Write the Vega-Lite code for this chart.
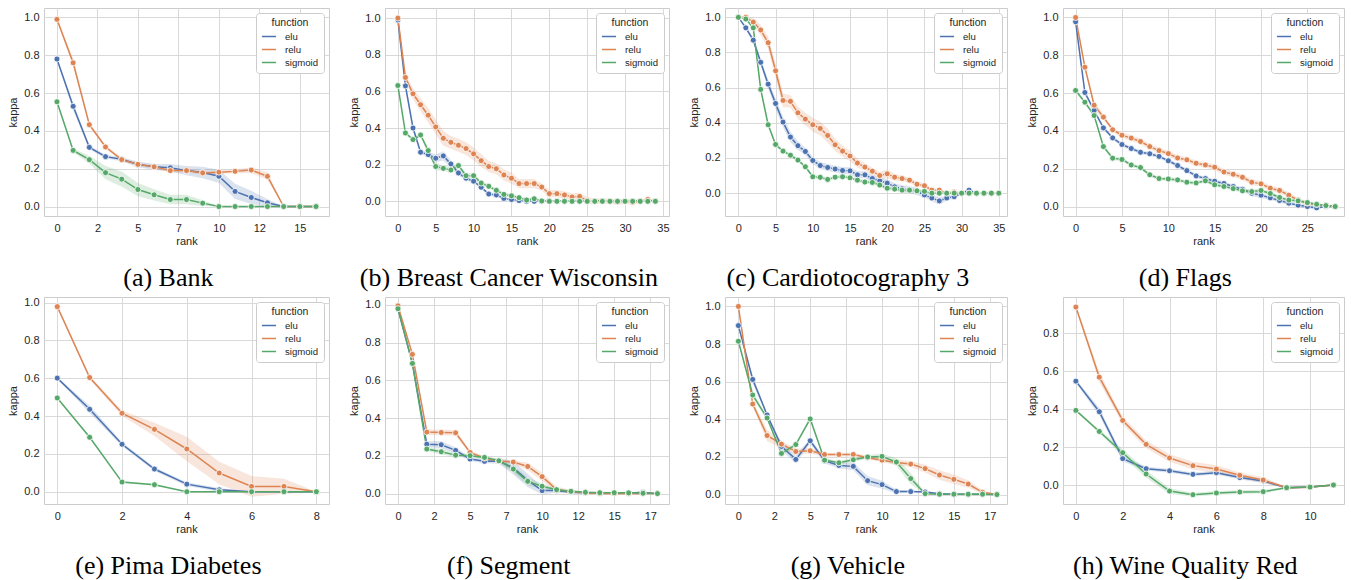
{
"$schema": "https://vega.github.io/schema/vega-lite/v6.json",
"padding": {"left": 7, "top": 7, "right": 5, "bottom": 5},
"background": "white",
"config": {
 "font": "Liberation Sans",
 "view": {"stroke": "#cccccc", "strokeWidth": 1},
 "axis": {"ticks": false, "domain": false, "grid": true, "gridColor": "#d9d9d9", "gridWidth": 1, "labelFont": "Liberation Sans", "labelFontSize": 11, "labelColor": "#262626", "titleFont": "Liberation Sans", "titleFontSize": 11, "titleFontWeight": "normal", "titleColor": "#262626", "labelPadding": 5, "labelOverlap": false, "labelFlush": false},
 "axisX": {"titlePadding": 2, "labelPadding": 6},
 "axisY": {"titlePadding": 5},
 "legend": {"orient": "top-right", "offset": 5, "padding": 5, "strokeColor": "#cccccc", "fillColor": "#ffffff", "cornerRadius": 3, "titleFont": "Liberation Sans", "titleFontSize": 10.5, "titleFontWeight": "normal", "titleColor": "#262626", "titleAnchor": "middle", "titlePadding": 0, "labelFont": "Liberation Sans", "labelFontSize": 9.6, "labelColor": "#262626", "symbolType": "stroke", "symbolStrokeWidth": 1.5, "symbolSize": 200, "rowPadding": 0, "labelOffset": 8},
 "title": {"font": "Liberation Serif", "fontSize": 26, "fontWeight": "normal", "color": "#000000", "orient": "bottom", "anchor": "middle", "frame": "bounds", "offset": 19}
},
"datasets": {
"a": [
{"function":"elu","rank":0,"kappa":0.78,"lo":0.775,"hi":0.785},
{"function":"elu","rank":1,"kappa":0.53,"lo":0.51,"hi":0.55},
{"function":"elu","rank":2,"kappa":0.313,"lo":0.303,"hi":0.323},
{"function":"elu","rank":3,"kappa":0.264,"lo":0.254,"hi":0.274},
{"function":"elu","rank":4,"kappa":0.25,"lo":0.24,"hi":0.26},
{"function":"elu","rank":5,"kappa":0.223,"lo":0.208,"hi":0.238},
{"function":"elu","rank":6,"kappa":0.21,"lo":0.195,"hi":0.225},
{"function":"elu","rank":7,"kappa":0.205,"lo":0.185,"hi":0.225},
{"function":"elu","rank":8,"kappa":0.19,"lo":0.165,"hi":0.215},
{"function":"elu","rank":9,"kappa":0.18,"lo":0.15,"hi":0.21},
{"function":"elu","rank":10,"kappa":0.16,"lo":0.125,"hi":0.195},
{"function":"elu","rank":11,"kappa":0.08,"lo":0.04,"hi":0.12},
{"function":"elu","rank":12,"kappa":0.048,"lo":0.013,"hi":0.083},
{"function":"elu","rank":13,"kappa":0.02,"lo":0.0,"hi":0.04},
{"function":"elu","rank":14,"kappa":0,"lo":0,"hi":0},
{"function":"elu","rank":15,"kappa":0,"lo":0,"hi":0},
{"function":"elu","rank":16,"kappa":0,"lo":0,"hi":0},
{"function":"relu","rank":0,"kappa":0.99,"lo":0.98,"hi":1.0},
{"function":"relu","rank":1,"kappa":0.76,"lo":0.74,"hi":0.78},
{"function":"relu","rank":2,"kappa":0.433,"lo":0.423,"hi":0.443},
{"function":"relu","rank":3,"kappa":0.315,"lo":0.305,"hi":0.325},
{"function":"relu","rank":4,"kappa":0.248,"lo":0.238,"hi":0.258},
{"function":"relu","rank":5,"kappa":0.223,"lo":0.213,"hi":0.233},
{"function":"relu","rank":6,"kappa":0.21,"lo":0.2,"hi":0.22},
{"function":"relu","rank":7,"kappa":0.19,"lo":0.18,"hi":0.2},
{"function":"relu","rank":8,"kappa":0.19,"lo":0.18,"hi":0.2},
{"function":"relu","rank":9,"kappa":0.178,"lo":0.168,"hi":0.188},
{"function":"relu","rank":10,"kappa":0.182,"lo":0.172,"hi":0.192},
{"function":"relu","rank":11,"kappa":0.186,"lo":0.176,"hi":0.196},
{"function":"relu","rank":12,"kappa":0.193,"lo":0.178,"hi":0.208},
{"function":"relu","rank":13,"kappa":0.16,"lo":0.14,"hi":0.18},
{"function":"relu","rank":14,"kappa":0,"lo":0,"hi":0},
{"function":"relu","rank":15,"kappa":0,"lo":0,"hi":0},
{"function":"relu","rank":16,"kappa":0,"lo":0,"hi":0},
{"function":"sigmoid","rank":0,"kappa":0.554,"lo":0.549,"hi":0.559},
{"function":"sigmoid","rank":1,"kappa":0.297,"lo":0.287,"hi":0.307},
{"function":"sigmoid","rank":2,"kappa":0.248,"lo":0.228,"hi":0.268},
{"function":"sigmoid","rank":3,"kappa":0.179,"lo":0.144,"hi":0.214},
{"function":"sigmoid","rank":4,"kappa":0.145,"lo":0.105,"hi":0.185},
{"function":"sigmoid","rank":5,"kappa":0.09,"lo":0.055,"hi":0.125},
{"function":"sigmoid","rank":6,"kappa":0.062,"lo":0.032,"hi":0.092},
{"function":"sigmoid","rank":7,"kappa":0.037,"lo":0.012,"hi":0.062},
{"function":"sigmoid","rank":8,"kappa":0.037,"lo":0.012,"hi":0.062},
{"function":"sigmoid","rank":9,"kappa":0.018,"lo":0.003,"hi":0.033},
{"function":"sigmoid","rank":10,"kappa":0,"lo":0,"hi":0},
{"function":"sigmoid","rank":11,"kappa":0,"lo":0,"hi":0},
{"function":"sigmoid","rank":12,"kappa":0,"lo":0,"hi":0},
{"function":"sigmoid","rank":13,"kappa":0,"lo":0,"hi":0},
{"function":"sigmoid","rank":14,"kappa":0,"lo":0,"hi":0},
{"function":"sigmoid","rank":15,"kappa":0,"lo":0,"hi":0},
{"function":"sigmoid","rank":16,"kappa":0,"lo":0,"hi":0}
],
"b": [
{"function":"elu","rank":0,"kappa":0.99,"lo":0.98,"hi":1.0},
{"function":"elu","rank":1,"kappa":0.63,"lo":0.61,"hi":0.65},
{"function":"elu","rank":2,"kappa":0.40,"lo":0.38,"hi":0.42},
{"function":"elu","rank":3,"kappa":0.268,"lo":0.258,"hi":0.278},
{"function":"elu","rank":4,"kappa":0.255,"lo":0.24,"hi":0.27},
{"function":"elu","rank":5,"kappa":0.235,"lo":0.215,"hi":0.255},
{"function":"elu","rank":6,"kappa":0.248,"lo":0.223,"hi":0.273},
{"function":"elu","rank":7,"kappa":0.204,"lo":0.184,"hi":0.224},
{"function":"elu","rank":8,"kappa":0.155,"lo":0.14,"hi":0.17},
{"function":"elu","rank":9,"kappa":0.126,"lo":0.116,"hi":0.136},
{"function":"elu","rank":10,"kappa":0.11,"lo":0.1,"hi":0.12},
{"function":"elu","rank":11,"kappa":0.077,"lo":0.067,"hi":0.087},
{"function":"elu","rank":12,"kappa":0.04,"lo":0.03,"hi":0.05},
{"function":"elu","rank":13,"kappa":0.035,"lo":0.025,"hi":0.045},
{"function":"elu","rank":14,"kappa":0.016,"lo":0.006,"hi":0.026},
{"function":"elu","rank":15,"kappa":0.01,"lo":0.005,"hi":0.015},
{"function":"elu","rank":16,"kappa":0.004,"lo":-0.001,"hi":0.009},
{"function":"elu","rank":17,"kappa":0,"lo":0,"hi":0},
{"function":"elu","rank":18,"kappa":0,"lo":0,"hi":0},
{"function":"elu","rank":19,"kappa":0,"lo":0,"hi":0},
{"function":"elu","rank":20,"kappa":0,"lo":0,"hi":0},
{"function":"elu","rank":21,"kappa":0,"lo":0,"hi":0},
{"function":"elu","rank":22,"kappa":0,"lo":0,"hi":0},
{"function":"elu","rank":23,"kappa":0,"lo":0,"hi":0},
{"function":"elu","rank":24,"kappa":0,"lo":0,"hi":0},
{"function":"elu","rank":25,"kappa":0,"lo":0,"hi":0},
{"function":"elu","rank":26,"kappa":0,"lo":0,"hi":0},
{"function":"elu","rank":27,"kappa":0,"lo":0,"hi":0},
{"function":"elu","rank":28,"kappa":0,"lo":0,"hi":0},
{"function":"elu","rank":29,"kappa":0,"lo":0,"hi":0},
{"function":"elu","rank":30,"kappa":0,"lo":0,"hi":0},
{"function":"elu","rank":31,"kappa":0,"lo":0,"hi":0},
{"function":"elu","rank":32,"kappa":0,"lo":0,"hi":0},
{"function":"elu","rank":33,"kappa":0,"lo":0,"hi":0},
{"function":"elu","rank":34,"kappa":0,"lo":0,"hi":0},
{"function":"relu","rank":0,"kappa":1.0,"lo":0.995,"hi":1.005},
{"function":"relu","rank":1,"kappa":0.676,"lo":0.656,"hi":0.696},
{"function":"relu","rank":2,"kappa":0.587,"lo":0.557,"hi":0.617},
{"function":"relu","rank":3,"kappa":0.527,"lo":0.492,"hi":0.562},
{"function":"relu","rank":4,"kappa":0.47,"lo":0.43,"hi":0.51},
{"function":"relu","rank":5,"kappa":0.406,"lo":0.366,"hi":0.446},
{"function":"relu","rank":6,"kappa":0.344,"lo":0.304,"hi":0.384},
{"function":"relu","rank":7,"kappa":0.322,"lo":0.287,"hi":0.357},
{"function":"relu","rank":8,"kappa":0.306,"lo":0.271,"hi":0.341},
{"function":"relu","rank":9,"kappa":0.288,"lo":0.253,"hi":0.323},
{"function":"relu","rank":10,"kappa":0.259,"lo":0.224,"hi":0.294},
{"function":"relu","rank":11,"kappa":0.222,"lo":0.187,"hi":0.257},
{"function":"relu","rank":12,"kappa":0.19,"lo":0.16,"hi":0.22},
{"function":"relu","rank":13,"kappa":0.178,"lo":0.148,"hi":0.208},
{"function":"relu","rank":14,"kappa":0.144,"lo":0.114,"hi":0.174},
{"function":"relu","rank":15,"kappa":0.126,"lo":0.096,"hi":0.156},
{"function":"relu","rank":16,"kappa":0.097,"lo":0.072,"hi":0.122},
{"function":"relu","rank":17,"kappa":0.097,"lo":0.072,"hi":0.122},
{"function":"relu","rank":18,"kappa":0.097,"lo":0.072,"hi":0.122},
{"function":"relu","rank":19,"kappa":0.078,"lo":0.058,"hi":0.098},
{"function":"relu","rank":20,"kappa":0.042,"lo":0.022,"hi":0.062},
{"function":"relu","rank":21,"kappa":0.042,"lo":0.022,"hi":0.062},
{"function":"relu","rank":22,"kappa":0.035,"lo":0.015,"hi":0.055},
{"function":"relu","rank":23,"kappa":0.024,"lo":0.004,"hi":0.044},
{"function":"relu","rank":24,"kappa":0.027,"lo":0.007,"hi":0.047},
{"function":"relu","rank":25,"kappa":0.004,"lo":-0.016,"hi":0.024},
{"function":"relu","rank":26,"kappa":0,"lo":-0.015,"hi":0.015},
{"function":"relu","rank":27,"kappa":0,"lo":-0.015,"hi":0.015},
{"function":"relu","rank":28,"kappa":0,"lo":-0.015,"hi":0.015},
{"function":"relu","rank":29,"kappa":-0.003,"lo":-0.018,"hi":0.012},
{"function":"relu","rank":30,"kappa":0,"lo":-0.015,"hi":0.015},
{"function":"relu","rank":31,"kappa":-0.005,"lo":-0.02,"hi":0.01},
{"function":"relu","rank":32,"kappa":0,"lo":-0.01,"hi":0.01},
{"function":"relu","rank":33,"kappa":0.01,"lo":0.0,"hi":0.02},
{"function":"relu","rank":34,"kappa":0,"lo":0,"hi":0},
{"function":"sigmoid","rank":0,"kappa":0.632,"lo":0.627,"hi":0.637},
{"function":"sigmoid","rank":1,"kappa":0.373,"lo":0.363,"hi":0.383},
{"function":"sigmoid","rank":2,"kappa":0.337,"lo":0.327,"hi":0.347},
{"function":"sigmoid","rank":3,"kappa":0.362,"lo":0.352,"hi":0.372},
{"function":"sigmoid","rank":4,"kappa":0.277,"lo":0.262,"hi":0.292},
{"function":"sigmoid","rank":5,"kappa":0.19,"lo":0.17,"hi":0.21},
{"function":"sigmoid","rank":6,"kappa":0.18,"lo":0.165,"hi":0.195},
{"function":"sigmoid","rank":7,"kappa":0.171,"lo":0.156,"hi":0.186},
{"function":"sigmoid","rank":8,"kappa":0.195,"lo":0.18,"hi":0.21},
{"function":"sigmoid","rank":9,"kappa":0.14,"lo":0.125,"hi":0.155},
{"function":"sigmoid","rank":10,"kappa":0.14,"lo":0.125,"hi":0.155},
{"function":"sigmoid","rank":11,"kappa":0.1,"lo":0.09,"hi":0.11},
{"function":"sigmoid","rank":12,"kappa":0.082,"lo":0.072,"hi":0.092},
{"function":"sigmoid","rank":13,"kappa":0.06,"lo":0.05,"hi":0.07},
{"function":"sigmoid","rank":14,"kappa":0.038,"lo":0.028,"hi":0.048},
{"function":"sigmoid","rank":15,"kappa":0.03,"lo":0.02,"hi":0.04},
{"function":"sigmoid","rank":16,"kappa":0.02,"lo":0.01,"hi":0.03},
{"function":"sigmoid","rank":17,"kappa":0.007,"lo":-0.003,"hi":0.017},
{"function":"sigmoid","rank":18,"kappa":0.014,"lo":0.004,"hi":0.024},
{"function":"sigmoid","rank":19,"kappa":0.002,"lo":-0.003,"hi":0.007},
{"function":"sigmoid","rank":20,"kappa":0,"lo":0,"hi":0},
{"function":"sigmoid","rank":21,"kappa":0,"lo":0,"hi":0},
{"function":"sigmoid","rank":22,"kappa":0,"lo":0,"hi":0},
{"function":"sigmoid","rank":23,"kappa":0,"lo":0,"hi":0},
{"function":"sigmoid","rank":24,"kappa":0,"lo":0,"hi":0},
{"function":"sigmoid","rank":25,"kappa":0,"lo":0,"hi":0},
{"function":"sigmoid","rank":26,"kappa":0,"lo":0,"hi":0},
{"function":"sigmoid","rank":27,"kappa":0,"lo":0,"hi":0},
{"function":"sigmoid","rank":28,"kappa":0,"lo":0,"hi":0},
{"function":"sigmoid","rank":29,"kappa":0,"lo":0,"hi":0},
{"function":"sigmoid","rank":30,"kappa":0,"lo":0,"hi":0},
{"function":"sigmoid","rank":31,"kappa":0,"lo":0,"hi":0},
{"function":"sigmoid","rank":32,"kappa":0,"lo":0,"hi":0},
{"function":"sigmoid","rank":33,"kappa":0,"lo":0,"hi":0},
{"function":"sigmoid","rank":34,"kappa":0,"lo":0,"hi":0}
],
"c": [
{"function":"elu","rank":0,"kappa":1.0,"lo":1.0,"hi":1.0},
{"function":"elu","rank":1,"kappa":0.94,"lo":0.93,"hi":0.95},
{"function":"elu","rank":2,"kappa":0.87,"lo":0.855,"hi":0.885},
{"function":"elu","rank":3,"kappa":0.744,"lo":0.724,"hi":0.764},
{"function":"elu","rank":4,"kappa":0.62,"lo":0.595,"hi":0.645},
{"function":"elu","rank":5,"kappa":0.51,"lo":0.48,"hi":0.54},
{"function":"elu","rank":6,"kappa":0.404,"lo":0.374,"hi":0.434},
{"function":"elu","rank":7,"kappa":0.319,"lo":0.289,"hi":0.349},
{"function":"elu","rank":8,"kappa":0.27,"lo":0.245,"hi":0.295},
{"function":"elu","rank":9,"kappa":0.237,"lo":0.217,"hi":0.257},
{"function":"elu","rank":10,"kappa":0.186,"lo":0.166,"hi":0.206},
{"function":"elu","rank":11,"kappa":0.157,"lo":0.137,"hi":0.177},
{"function":"elu","rank":12,"kappa":0.146,"lo":0.126,"hi":0.166},
{"function":"elu","rank":13,"kappa":0.137,"lo":0.117,"hi":0.157},
{"function":"elu","rank":14,"kappa":0.129,"lo":0.109,"hi":0.149},
{"function":"elu","rank":15,"kappa":0.127,"lo":0.107,"hi":0.147},
{"function":"elu","rank":16,"kappa":0.104,"lo":0.084,"hi":0.124},
{"function":"elu","rank":17,"kappa":0.104,"lo":0.084,"hi":0.124},
{"function":"elu","rank":18,"kappa":0.083,"lo":0.063,"hi":0.103},
{"function":"elu","rank":19,"kappa":0.07,"lo":0.05,"hi":0.09},
{"function":"elu","rank":20,"kappa":0.057,"lo":0.037,"hi":0.077},
{"function":"elu","rank":21,"kappa":0.036,"lo":0.016,"hi":0.056},
{"function":"elu","rank":22,"kappa":0.025,"lo":0.005,"hi":0.045},
{"function":"elu","rank":23,"kappa":0.02,"lo":0.0,"hi":0.04},
{"function":"elu","rank":24,"kappa":0.01,"lo":-0.01,"hi":0.03},
{"function":"elu","rank":25,"kappa":-0.01,"lo":-0.025,"hi":0.005},
{"function":"elu","rank":26,"kappa":-0.028,"lo":-0.048,"hi":-0.008},
{"function":"elu","rank":27,"kappa":-0.044,"lo":-0.064,"hi":-0.024},
{"function":"elu","rank":28,"kappa":-0.028,"lo":-0.043,"hi":-0.013},
{"function":"elu","rank":29,"kappa":-0.02,"lo":-0.03,"hi":-0.01},
{"function":"elu","rank":30,"kappa":0,"lo":-0.01,"hi":0.01},
{"function":"elu","rank":31,"kappa":0.017,"lo":0.007,"hi":0.027},
{"function":"elu","rank":32,"kappa":0,"lo":0,"hi":0},
{"function":"elu","rank":33,"kappa":0,"lo":0,"hi":0},
{"function":"elu","rank":34,"kappa":0,"lo":0,"hi":0},
{"function":"elu","rank":35,"kappa":0,"lo":0,"hi":0},
{"function":"relu","rank":0,"kappa":1.0,"lo":1.0,"hi":1.0},
{"function":"relu","rank":1,"kappa":1.0,"lo":0.99,"hi":1.01},
{"function":"relu","rank":2,"kappa":0.973,"lo":0.953,"hi":0.993},
{"function":"relu","rank":3,"kappa":0.928,"lo":0.898,"hi":0.958},
{"function":"relu","rank":4,"kappa":0.856,"lo":0.821,"hi":0.891},
{"function":"relu","rank":5,"kappa":0.696,"lo":0.656,"hi":0.736},
{"function":"relu","rank":6,"kappa":0.527,"lo":0.487,"hi":0.567},
{"function":"relu","rank":7,"kappa":0.522,"lo":0.487,"hi":0.557},
{"function":"relu","rank":8,"kappa":0.457,"lo":0.422,"hi":0.492},
{"function":"relu","rank":9,"kappa":0.421,"lo":0.386,"hi":0.456},
{"function":"relu","rank":10,"kappa":0.389,"lo":0.349,"hi":0.429},
{"function":"relu","rank":11,"kappa":0.368,"lo":0.328,"hi":0.408},
{"function":"relu","rank":12,"kappa":0.328,"lo":0.288,"hi":0.368},
{"function":"relu","rank":13,"kappa":0.275,"lo":0.24,"hi":0.31},
{"function":"relu","rank":14,"kappa":0.239,"lo":0.209,"hi":0.269},
{"function":"relu","rank":15,"kappa":0.211,"lo":0.181,"hi":0.241},
{"function":"relu","rank":16,"kappa":0.171,"lo":0.146,"hi":0.196},
{"function":"relu","rank":17,"kappa":0.148,"lo":0.128,"hi":0.168},
{"function":"relu","rank":18,"kappa":0.125,"lo":0.105,"hi":0.145},
{"function":"relu","rank":19,"kappa":0.1,"lo":0.08,"hi":0.12},
{"function":"relu","rank":20,"kappa":0.11,"lo":0.085,"hi":0.135},
{"function":"relu","rank":21,"kappa":0.091,"lo":0.071,"hi":0.111},
{"function":"relu","rank":22,"kappa":0.083,"lo":0.068,"hi":0.098},
{"function":"relu","rank":23,"kappa":0.074,"lo":0.059,"hi":0.089},
{"function":"relu","rank":24,"kappa":0.051,"lo":0.036,"hi":0.066},
{"function":"relu","rank":25,"kappa":0.042,"lo":0.027,"hi":0.057},
{"function":"relu","rank":26,"kappa":0.017,"lo":0.007,"hi":0.027},
{"function":"relu","rank":27,"kappa":0.017,"lo":0.007,"hi":0.027},
{"function":"relu","rank":28,"kappa":0,"lo":-0.01,"hi":0.01},
{"function":"relu","rank":29,"kappa":0.006,"lo":-0.004,"hi":0.016},
{"function":"relu","rank":30,"kappa":0,"lo":-0.01,"hi":0.01},
{"function":"relu","rank":31,"kappa":0,"lo":-0.01,"hi":0.01},
{"function":"relu","rank":32,"kappa":0,"lo":0,"hi":0},
{"function":"relu","rank":33,"kappa":0,"lo":0,"hi":0},
{"function":"relu","rank":34,"kappa":0,"lo":0,"hi":0},
{"function":"relu","rank":35,"kappa":0,"lo":0,"hi":0},
{"function":"sigmoid","rank":0,"kappa":1.0,"lo":1.0,"hi":1.0},
{"function":"sigmoid","rank":1,"kappa":0.99,"lo":0.985,"hi":0.995},
{"function":"sigmoid","rank":2,"kappa":0.94,"lo":0.93,"hi":0.95},
{"function":"sigmoid","rank":3,"kappa":0.59,"lo":0.58,"hi":0.6},
{"function":"sigmoid","rank":4,"kappa":0.389,"lo":0.379,"hi":0.399},
{"function":"sigmoid","rank":5,"kappa":0.277,"lo":0.267,"hi":0.287},
{"function":"sigmoid","rank":6,"kappa":0.239,"lo":0.229,"hi":0.249},
{"function":"sigmoid","rank":7,"kappa":0.216,"lo":0.206,"hi":0.226},
{"function":"sigmoid","rank":8,"kappa":0.188,"lo":0.178,"hi":0.198},
{"function":"sigmoid","rank":9,"kappa":0.15,"lo":0.14,"hi":0.16},
{"function":"sigmoid","rank":10,"kappa":0.093,"lo":0.083,"hi":0.103},
{"function":"sigmoid","rank":11,"kappa":0.09,"lo":0.08,"hi":0.1},
{"function":"sigmoid","rank":12,"kappa":0.078,"lo":0.068,"hi":0.088},
{"function":"sigmoid","rank":13,"kappa":0.091,"lo":0.081,"hi":0.101},
{"function":"sigmoid","rank":14,"kappa":0.093,"lo":0.083,"hi":0.103},
{"function":"sigmoid","rank":15,"kappa":0.087,"lo":0.077,"hi":0.097},
{"function":"sigmoid","rank":16,"kappa":0.074,"lo":0.064,"hi":0.084},
{"function":"sigmoid","rank":17,"kappa":0.063,"lo":0.053,"hi":0.073},
{"function":"sigmoid","rank":18,"kappa":0.061,"lo":0.051,"hi":0.071},
{"function":"sigmoid","rank":19,"kappa":0.046,"lo":0.036,"hi":0.056},
{"function":"sigmoid","rank":20,"kappa":0.028,"lo":0.018,"hi":0.038},
{"function":"sigmoid","rank":21,"kappa":0.023,"lo":0.013,"hi":0.033},
{"function":"sigmoid","rank":22,"kappa":0.017,"lo":0.007,"hi":0.027},
{"function":"sigmoid","rank":23,"kappa":0.017,"lo":0.007,"hi":0.027},
{"function":"sigmoid","rank":24,"kappa":0.013,"lo":0.003,"hi":0.023},
{"function":"sigmoid","rank":25,"kappa":0.01,"lo":0.0,"hi":0.02},
{"function":"sigmoid","rank":26,"kappa":0,"lo":0,"hi":0},
{"function":"sigmoid","rank":27,"kappa":0,"lo":0,"hi":0},
{"function":"sigmoid","rank":28,"kappa":0,"lo":0,"hi":0},
{"function":"sigmoid","rank":29,"kappa":0,"lo":0,"hi":0},
{"function":"sigmoid","rank":30,"kappa":0,"lo":0,"hi":0},
{"function":"sigmoid","rank":31,"kappa":0,"lo":0,"hi":0},
{"function":"sigmoid","rank":32,"kappa":0,"lo":0,"hi":0},
{"function":"sigmoid","rank":33,"kappa":0,"lo":0,"hi":0},
{"function":"sigmoid","rank":34,"kappa":0,"lo":0,"hi":0},
{"function":"sigmoid","rank":35,"kappa":0,"lo":0,"hi":0}
],
"d": [
{"function":"elu","rank":0,"kappa":0.977,"lo":0.967,"hi":0.987},
{"function":"elu","rank":1,"kappa":0.603,"lo":0.588,"hi":0.618},
{"function":"elu","rank":2,"kappa":0.508,"lo":0.498,"hi":0.518},
{"function":"elu","rank":3,"kappa":0.416,"lo":0.406,"hi":0.426},
{"function":"elu","rank":4,"kappa":0.363,"lo":0.353,"hi":0.373},
{"function":"elu","rank":5,"kappa":0.328,"lo":0.318,"hi":0.338},
{"function":"elu","rank":6,"kappa":0.307,"lo":0.297,"hi":0.317},
{"function":"elu","rank":7,"kappa":0.287,"lo":0.277,"hi":0.297},
{"function":"elu","rank":8,"kappa":0.279,"lo":0.269,"hi":0.289},
{"function":"elu","rank":9,"kappa":0.265,"lo":0.255,"hi":0.275},
{"function":"elu","rank":10,"kappa":0.242,"lo":0.232,"hi":0.252},
{"function":"elu","rank":11,"kappa":0.217,"lo":0.207,"hi":0.227},
{"function":"elu","rank":12,"kappa":0.19,"lo":0.18,"hi":0.2},
{"function":"elu","rank":13,"kappa":0.162,"lo":0.152,"hi":0.172},
{"function":"elu","rank":14,"kappa":0.148,"lo":0.138,"hi":0.158},
{"function":"elu","rank":15,"kappa":0.134,"lo":0.124,"hi":0.144},
{"function":"elu","rank":16,"kappa":0.122,"lo":0.112,"hi":0.132},
{"function":"elu","rank":17,"kappa":0.106,"lo":0.096,"hi":0.116},
{"function":"elu","rank":18,"kappa":0.092,"lo":0.082,"hi":0.102},
{"function":"elu","rank":19,"kappa":0.07,"lo":0.055,"hi":0.085},
{"function":"elu","rank":20,"kappa":0.06,"lo":0.045,"hi":0.075},
{"function":"elu","rank":21,"kappa":0.046,"lo":0.036,"hi":0.056},
{"function":"elu","rank":22,"kappa":0.032,"lo":0.022,"hi":0.042},
{"function":"elu","rank":23,"kappa":0.018,"lo":0.008,"hi":0.028},
{"function":"elu","rank":24,"kappa":0.007,"lo":-0.003,"hi":0.017},
{"function":"elu","rank":25,"kappa":0,"lo":-0.01,"hi":0.01},
{"function":"elu","rank":26,"kappa":-0.007,"lo":-0.017,"hi":0.003},
{"function":"elu","rank":27,"kappa":0,"lo":0,"hi":0},
{"function":"elu","rank":28,"kappa":0,"lo":0,"hi":0},
{"function":"relu","rank":0,"kappa":1.0,"lo":1.0,"hi":1.0},
{"function":"relu","rank":1,"kappa":0.737,"lo":0.727,"hi":0.747},
{"function":"relu","rank":2,"kappa":0.536,"lo":0.516,"hi":0.556},
{"function":"relu","rank":3,"kappa":0.473,"lo":0.458,"hi":0.488},
{"function":"relu","rank":4,"kappa":0.406,"lo":0.396,"hi":0.416},
{"function":"relu","rank":5,"kappa":0.377,"lo":0.362,"hi":0.392},
{"function":"relu","rank":6,"kappa":0.362,"lo":0.347,"hi":0.377},
{"function":"relu","rank":7,"kappa":0.344,"lo":0.329,"hi":0.359},
{"function":"relu","rank":8,"kappa":0.317,"lo":0.302,"hi":0.332},
{"function":"relu","rank":9,"kappa":0.296,"lo":0.281,"hi":0.311},
{"function":"relu","rank":10,"kappa":0.28,"lo":0.265,"hi":0.295},
{"function":"relu","rank":11,"kappa":0.257,"lo":0.242,"hi":0.272},
{"function":"relu","rank":12,"kappa":0.247,"lo":0.232,"hi":0.262},
{"function":"relu","rank":13,"kappa":0.229,"lo":0.214,"hi":0.244},
{"function":"relu","rank":14,"kappa":0.22,"lo":0.205,"hi":0.235},
{"function":"relu","rank":15,"kappa":0.208,"lo":0.193,"hi":0.223},
{"function":"relu","rank":16,"kappa":0.183,"lo":0.168,"hi":0.198},
{"function":"relu","rank":17,"kappa":0.171,"lo":0.156,"hi":0.186},
{"function":"relu","rank":18,"kappa":0.155,"lo":0.14,"hi":0.17},
{"function":"relu","rank":19,"kappa":0.129,"lo":0.114,"hi":0.144},
{"function":"relu","rank":20,"kappa":0.12,"lo":0.105,"hi":0.135},
{"function":"relu","rank":21,"kappa":0.097,"lo":0.082,"hi":0.112},
{"function":"relu","rank":22,"kappa":0.085,"lo":0.07,"hi":0.1},
{"function":"relu","rank":23,"kappa":0.06,"lo":0.045,"hi":0.075},
{"function":"relu","rank":24,"kappa":0.034,"lo":0.024,"hi":0.044},
{"function":"relu","rank":25,"kappa":0.018,"lo":0.008,"hi":0.028},
{"function":"relu","rank":26,"kappa":0.011,"lo":0.006,"hi":0.016},
{"function":"relu","rank":27,"kappa":0.005,"lo":0.0,"hi":0.01},
{"function":"relu","rank":28,"kappa":0,"lo":0,"hi":0},
{"function":"sigmoid","rank":0,"kappa":0.614,"lo":0.609,"hi":0.619},
{"function":"sigmoid","rank":1,"kappa":0.552,"lo":0.542,"hi":0.562},
{"function":"sigmoid","rank":2,"kappa":0.481,"lo":0.471,"hi":0.491},
{"function":"sigmoid","rank":3,"kappa":0.317,"lo":0.307,"hi":0.327},
{"function":"sigmoid","rank":4,"kappa":0.256,"lo":0.246,"hi":0.266},
{"function":"sigmoid","rank":5,"kappa":0.249,"lo":0.239,"hi":0.259},
{"function":"sigmoid","rank":6,"kappa":0.22,"lo":0.21,"hi":0.23},
{"function":"sigmoid","rank":7,"kappa":0.206,"lo":0.196,"hi":0.216},
{"function":"sigmoid","rank":8,"kappa":0.168,"lo":0.158,"hi":0.178},
{"function":"sigmoid","rank":9,"kappa":0.148,"lo":0.138,"hi":0.158},
{"function":"sigmoid","rank":10,"kappa":0.146,"lo":0.136,"hi":0.156},
{"function":"sigmoid","rank":11,"kappa":0.141,"lo":0.131,"hi":0.151},
{"function":"sigmoid","rank":12,"kappa":0.129,"lo":0.119,"hi":0.139},
{"function":"sigmoid","rank":13,"kappa":0.125,"lo":0.115,"hi":0.135},
{"function":"sigmoid","rank":14,"kappa":0.136,"lo":0.126,"hi":0.146},
{"function":"sigmoid","rank":15,"kappa":0.115,"lo":0.105,"hi":0.125},
{"function":"sigmoid","rank":16,"kappa":0.106,"lo":0.096,"hi":0.116},
{"function":"sigmoid","rank":17,"kappa":0.095,"lo":0.085,"hi":0.105},
{"function":"sigmoid","rank":18,"kappa":0.083,"lo":0.073,"hi":0.093},
{"function":"sigmoid","rank":19,"kappa":0.079,"lo":0.069,"hi":0.089},
{"function":"sigmoid","rank":20,"kappa":0.085,"lo":0.075,"hi":0.095},
{"function":"sigmoid","rank":21,"kappa":0.069,"lo":0.059,"hi":0.079},
{"function":"sigmoid","rank":22,"kappa":0.048,"lo":0.038,"hi":0.058},
{"function":"sigmoid","rank":23,"kappa":0.034,"lo":0.024,"hi":0.044},
{"function":"sigmoid","rank":24,"kappa":0.03,"lo":0.02,"hi":0.04},
{"function":"sigmoid","rank":25,"kappa":0.021,"lo":0.011,"hi":0.031},
{"function":"sigmoid","rank":26,"kappa":0.012,"lo":0.002,"hi":0.022},
{"function":"sigmoid","rank":27,"kappa":0.005,"lo":0.0,"hi":0.01},
{"function":"sigmoid","rank":28,"kappa":0,"lo":0,"hi":0}
],
"e": [
{"function":"elu","rank":0,"kappa":0.601,"lo":0.596,"hi":0.606},
{"function":"elu","rank":1,"kappa":0.436,"lo":0.416,"hi":0.456},
{"function":"elu","rank":2,"kappa":0.251,"lo":0.241,"hi":0.261},
{"function":"elu","rank":3,"kappa":0.12,"lo":0.11,"hi":0.13},
{"function":"elu","rank":4,"kappa":0.04,"lo":0.03,"hi":0.05},
{"function":"elu","rank":5,"kappa":0.01,"lo":0.0,"hi":0.02},
{"function":"elu","rank":6,"kappa":0,"lo":0,"hi":0},
{"function":"elu","rank":7,"kappa":0,"lo":0,"hi":0},
{"function":"elu","rank":8,"kappa":0,"lo":0,"hi":0},
{"function":"relu","rank":0,"kappa":0.979,"lo":0.974,"hi":0.984},
{"function":"relu","rank":1,"kappa":0.604,"lo":0.594,"hi":0.614},
{"function":"relu","rank":2,"kappa":0.415,"lo":0.4,"hi":0.43},
{"function":"relu","rank":3,"kappa":0.33,"lo":0.295,"hi":0.365},
{"function":"relu","rank":4,"kappa":0.226,"lo":0.161,"hi":0.291},
{"function":"relu","rank":5,"kappa":0.099,"lo":0.039,"hi":0.159},
{"function":"relu","rank":6,"kappa":0.028,"lo":-0.027,"hi":0.083},
{"function":"relu","rank":7,"kappa":0.028,"lo":-0.012,"hi":0.068},
{"function":"relu","rank":8,"kappa":0,"lo":0,"hi":0},
{"function":"sigmoid","rank":0,"kappa":0.496,"lo":0.491,"hi":0.501},
{"function":"sigmoid","rank":1,"kappa":0.288,"lo":0.283,"hi":0.293},
{"function":"sigmoid","rank":2,"kappa":0.051,"lo":0.046,"hi":0.056},
{"function":"sigmoid","rank":3,"kappa":0.037,"lo":0.032,"hi":0.042},
{"function":"sigmoid","rank":4,"kappa":0,"lo":0,"hi":0},
{"function":"sigmoid","rank":5,"kappa":0,"lo":0,"hi":0},
{"function":"sigmoid","rank":6,"kappa":0,"lo":0,"hi":0},
{"function":"sigmoid","rank":7,"kappa":0,"lo":0,"hi":0},
{"function":"sigmoid","rank":8,"kappa":0,"lo":0,"hi":0}
],
"f": [
{"function":"elu","rank":0,"kappa":0.98,"lo":0.975,"hi":0.985},
{"function":"elu","rank":1,"kappa":0.69,"lo":0.685,"hi":0.695},
{"function":"elu","rank":2,"kappa":0.262,"lo":0.247,"hi":0.277},
{"function":"elu","rank":3,"kappa":0.259,"lo":0.239,"hi":0.279},
{"function":"elu","rank":4,"kappa":0.229,"lo":0.214,"hi":0.244},
{"function":"elu","rank":5,"kappa":0.183,"lo":0.173,"hi":0.193},
{"function":"elu","rank":6,"kappa":0.171,"lo":0.161,"hi":0.181},
{"function":"elu","rank":7,"kappa":0.173,"lo":0.158,"hi":0.188},
{"function":"elu","rank":8,"kappa":0.136,"lo":0.101,"hi":0.171},
{"function":"elu","rank":9,"kappa":0.07,"lo":0.035,"hi":0.105},
{"function":"elu","rank":10,"kappa":0.016,"lo":-0.004,"hi":0.036},
{"function":"elu","rank":11,"kappa":0.016,"lo":0.006,"hi":0.026},
{"function":"elu","rank":12,"kappa":0.007,"lo":0.002,"hi":0.012},
{"function":"elu","rank":13,"kappa":0.005,"lo":0.0,"hi":0.01},
{"function":"elu","rank":14,"kappa":0.002,"lo":-0.003,"hi":0.007},
{"function":"elu","rank":15,"kappa":0.002,"lo":-0.003,"hi":0.007},
{"function":"elu","rank":16,"kappa":0.002,"lo":-0.003,"hi":0.007},
{"function":"elu","rank":17,"kappa":0.007,"lo":0.002,"hi":0.012},
{"function":"elu","rank":18,"kappa":0,"lo":0,"hi":0},
{"function":"relu","rank":0,"kappa":0.995,"lo":0.99,"hi":1.0},
{"function":"relu","rank":1,"kappa":0.738,"lo":0.733,"hi":0.743},
{"function":"relu","rank":2,"kappa":0.326,"lo":0.311,"hi":0.341},
{"function":"relu","rank":3,"kappa":0.324,"lo":0.309,"hi":0.339},
{"function":"relu","rank":4,"kappa":0.322,"lo":0.307,"hi":0.337},
{"function":"relu","rank":5,"kappa":0.218,"lo":0.208,"hi":0.228},
{"function":"relu","rank":6,"kappa":0.188,"lo":0.178,"hi":0.198},
{"function":"relu","rank":7,"kappa":0.173,"lo":0.163,"hi":0.183},
{"function":"relu","rank":8,"kappa":0.167,"lo":0.157,"hi":0.177},
{"function":"relu","rank":9,"kappa":0.144,"lo":0.124,"hi":0.164},
{"function":"relu","rank":10,"kappa":0.09,"lo":0.07,"hi":0.11},
{"function":"relu","rank":11,"kappa":0.021,"lo":0.006,"hi":0.036},
{"function":"relu","rank":12,"kappa":0.011,"lo":0.001,"hi":0.021},
{"function":"relu","rank":13,"kappa":0.004,"lo":-0.001,"hi":0.009},
{"function":"relu","rank":14,"kappa":0,"lo":-0.005,"hi":0.005},
{"function":"relu","rank":15,"kappa":0,"lo":-0.005,"hi":0.005},
{"function":"relu","rank":16,"kappa":0,"lo":-0.005,"hi":0.005},
{"function":"relu","rank":17,"kappa":0,"lo":-0.005,"hi":0.005},
{"function":"relu","rank":18,"kappa":0,"lo":0,"hi":0},
{"function":"sigmoid","rank":0,"kappa":0.98,"lo":0.975,"hi":0.985},
{"function":"sigmoid","rank":1,"kappa":0.69,"lo":0.685,"hi":0.695},
{"function":"sigmoid","rank":2,"kappa":0.236,"lo":0.226,"hi":0.246},
{"function":"sigmoid","rank":3,"kappa":0.222,"lo":0.207,"hi":0.237},
{"function":"sigmoid","rank":4,"kappa":0.204,"lo":0.194,"hi":0.214},
{"function":"sigmoid","rank":5,"kappa":0.201,"lo":0.191,"hi":0.211},
{"function":"sigmoid","rank":6,"kappa":0.192,"lo":0.182,"hi":0.202},
{"function":"sigmoid","rank":7,"kappa":0.174,"lo":0.164,"hi":0.184},
{"function":"sigmoid","rank":8,"kappa":0.13,"lo":0.11,"hi":0.15},
{"function":"sigmoid","rank":9,"kappa":0.065,"lo":0.045,"hi":0.085},
{"function":"sigmoid","rank":10,"kappa":0.039,"lo":0.024,"hi":0.054},
{"function":"sigmoid","rank":11,"kappa":0.021,"lo":0.011,"hi":0.031},
{"function":"sigmoid","rank":12,"kappa":0.012,"lo":0.007,"hi":0.017},
{"function":"sigmoid","rank":13,"kappa":0.007,"lo":0.002,"hi":0.012},
{"function":"sigmoid","rank":14,"kappa":0.005,"lo":0.0,"hi":0.01},
{"function":"sigmoid","rank":15,"kappa":0.005,"lo":0.0,"hi":0.01},
{"function":"sigmoid","rank":16,"kappa":0.004,"lo":-0.001,"hi":0.009},
{"function":"sigmoid","rank":17,"kappa":0.002,"lo":-0.003,"hi":0.007},
{"function":"sigmoid","rank":18,"kappa":0,"lo":0,"hi":0}
],
"g": [
{"function":"elu","rank":0,"kappa":0.898,"lo":0.888,"hi":0.908},
{"function":"elu","rank":1,"kappa":0.612,"lo":0.592,"hi":0.632},
{"function":"elu","rank":2,"kappa":0.423,"lo":0.413,"hi":0.433},
{"function":"elu","rank":3,"kappa":0.256,"lo":0.236,"hi":0.276},
{"function":"elu","rank":4,"kappa":0.187,"lo":0.167,"hi":0.207},
{"function":"elu","rank":5,"kappa":0.286,"lo":0.271,"hi":0.301},
{"function":"elu","rank":6,"kappa":0.18,"lo":0.165,"hi":0.195},
{"function":"elu","rank":7,"kappa":0.155,"lo":0.14,"hi":0.17},
{"function":"elu","rank":8,"kappa":0.15,"lo":0.13,"hi":0.17},
{"function":"elu","rank":9,"kappa":0.074,"lo":0.049,"hi":0.099},
{"function":"elu","rank":10,"kappa":0.053,"lo":0.033,"hi":0.073},
{"function":"elu","rank":11,"kappa":0.016,"lo":0.006,"hi":0.026},
{"function":"elu","rank":12,"kappa":0.016,"lo":0.011,"hi":0.021},
{"function":"elu","rank":13,"kappa":0.014,"lo":0.009,"hi":0.019},
{"function":"elu","rank":14,"kappa":0.005,"lo":0.0,"hi":0.01},
{"function":"elu","rank":15,"kappa":0.002,"lo":-0.003,"hi":0.007},
{"function":"elu","rank":16,"kappa":0.002,"lo":-0.003,"hi":0.007},
{"function":"elu","rank":17,"kappa":0.002,"lo":-0.003,"hi":0.007},
{"function":"elu","rank":18,"kappa":0,"lo":0,"hi":0},
{"function":"relu","rank":0,"kappa":1.0,"lo":0.995,"hi":1.005},
{"function":"relu","rank":1,"kappa":0.481,"lo":0.466,"hi":0.496},
{"function":"relu","rank":2,"kappa":0.314,"lo":0.284,"hi":0.344},
{"function":"relu","rank":3,"kappa":0.268,"lo":0.248,"hi":0.288},
{"function":"relu","rank":4,"kappa":0.229,"lo":0.214,"hi":0.244},
{"function":"relu","rank":5,"kappa":0.233,"lo":0.218,"hi":0.248},
{"function":"relu","rank":6,"kappa":0.213,"lo":0.203,"hi":0.223},
{"function":"relu","rank":7,"kappa":0.213,"lo":0.203,"hi":0.223},
{"function":"relu","rank":8,"kappa":0.213,"lo":0.203,"hi":0.223},
{"function":"relu","rank":9,"kappa":0.196,"lo":0.186,"hi":0.206},
{"function":"relu","rank":10,"kappa":0.183,"lo":0.173,"hi":0.193},
{"function":"relu","rank":11,"kappa":0.171,"lo":0.156,"hi":0.186},
{"function":"relu","rank":12,"kappa":0.162,"lo":0.147,"hi":0.177},
{"function":"relu","rank":13,"kappa":0.138,"lo":0.118,"hi":0.158},
{"function":"relu","rank":14,"kappa":0.104,"lo":0.079,"hi":0.129},
{"function":"relu","rank":15,"kappa":0.081,"lo":0.056,"hi":0.106},
{"function":"relu","rank":16,"kappa":0.056,"lo":0.036,"hi":0.076},
{"function":"relu","rank":17,"kappa":0.012,"lo":0.002,"hi":0.022},
{"function":"relu","rank":18,"kappa":0,"lo":0,"hi":0},
{"function":"sigmoid","rank":0,"kappa":0.815,"lo":0.805,"hi":0.825},
{"function":"sigmoid","rank":1,"kappa":0.529,"lo":0.514,"hi":0.544},
{"function":"sigmoid","rank":2,"kappa":0.407,"lo":0.397,"hi":0.417},
{"function":"sigmoid","rank":3,"kappa":0.219,"lo":0.209,"hi":0.229},
{"function":"sigmoid","rank":4,"kappa":0.266,"lo":0.256,"hi":0.276},
{"function":"sigmoid","rank":5,"kappa":0.402,"lo":0.392,"hi":0.412},
{"function":"sigmoid","rank":6,"kappa":0.183,"lo":0.173,"hi":0.193},
{"function":"sigmoid","rank":7,"kappa":0.169,"lo":0.159,"hi":0.179},
{"function":"sigmoid","rank":8,"kappa":0.185,"lo":0.175,"hi":0.195},
{"function":"sigmoid","rank":9,"kappa":0.2,"lo":0.19,"hi":0.21},
{"function":"sigmoid","rank":10,"kappa":0.203,"lo":0.188,"hi":0.218},
{"function":"sigmoid","rank":11,"kappa":0.173,"lo":0.153,"hi":0.193},
{"function":"sigmoid","rank":12,"kappa":0.085,"lo":0.055,"hi":0.115},
{"function":"sigmoid","rank":13,"kappa":0.005,"lo":0.0,"hi":0.01},
{"function":"sigmoid","rank":14,"kappa":0.002,"lo":0.002,"hi":0.002},
{"function":"sigmoid","rank":15,"kappa":0.002,"lo":0.002,"hi":0.002},
{"function":"sigmoid","rank":16,"kappa":0.002,"lo":0.002,"hi":0.002},
{"function":"sigmoid","rank":17,"kappa":0.002,"lo":0.002,"hi":0.002},
{"function":"sigmoid","rank":18,"kappa":0,"lo":0,"hi":0}
],
"h": [
{"function":"elu","rank":0,"kappa":0.547,"lo":0.537,"hi":0.557},
{"function":"elu","rank":1,"kappa":0.386,"lo":0.366,"hi":0.406},
{"function":"elu","rank":2,"kappa":0.139,"lo":0.124,"hi":0.154},
{"function":"elu","rank":3,"kappa":0.086,"lo":0.076,"hi":0.096},
{"function":"elu","rank":4,"kappa":0.075,"lo":0.065,"hi":0.085},
{"function":"elu","rank":5,"kappa":0.056,"lo":0.046,"hi":0.066},
{"function":"elu","rank":6,"kappa":0.065,"lo":0.055,"hi":0.075},
{"function":"elu","rank":7,"kappa":0.039,"lo":0.029,"hi":0.049},
{"function":"elu","rank":8,"kappa":0.021,"lo":0.011,"hi":0.031},
{"function":"elu","rank":9,"kappa":-0.014,"lo":-0.019,"hi":-0.009},
{"function":"elu","rank":10,"kappa":-0.011,"lo":-0.016,"hi":-0.006},
{"function":"elu","rank":11,"kappa":0,"lo":0,"hi":0},
{"function":"relu","rank":0,"kappa":0.937,"lo":0.927,"hi":0.947},
{"function":"relu","rank":1,"kappa":0.568,"lo":0.543,"hi":0.593},
{"function":"relu","rank":2,"kappa":0.34,"lo":0.32,"hi":0.36},
{"function":"relu","rank":3,"kappa":0.214,"lo":0.194,"hi":0.234},
{"function":"relu","rank":4,"kappa":0.142,"lo":0.122,"hi":0.162},
{"function":"relu","rank":5,"kappa":0.102,"lo":0.082,"hi":0.122},
{"function":"relu","rank":6,"kappa":0.084,"lo":0.064,"hi":0.104},
{"function":"relu","rank":7,"kappa":0.051,"lo":0.036,"hi":0.066},
{"function":"relu","rank":8,"kappa":0.026,"lo":0.011,"hi":0.041},
{"function":"relu","rank":9,"kappa":-0.014,"lo":-0.019,"hi":-0.009},
{"function":"relu","rank":10,"kappa":-0.012,"lo":-0.017,"hi":-0.007},
{"function":"relu","rank":11,"kappa":0,"lo":0,"hi":0},
{"function":"sigmoid","rank":0,"kappa":0.393,"lo":0.388,"hi":0.398},
{"function":"sigmoid","rank":1,"kappa":0.282,"lo":0.272,"hi":0.292},
{"function":"sigmoid","rank":2,"kappa":0.17,"lo":0.15,"hi":0.19},
{"function":"sigmoid","rank":3,"kappa":0.058,"lo":0.038,"hi":0.078},
{"function":"sigmoid","rank":4,"kappa":-0.032,"lo":-0.047,"hi":-0.017},
{"function":"sigmoid","rank":5,"kappa":-0.051,"lo":-0.061,"hi":-0.041},
{"function":"sigmoid","rank":6,"kappa":-0.042,"lo":-0.052,"hi":-0.032},
{"function":"sigmoid","rank":7,"kappa":-0.037,"lo":-0.047,"hi":-0.027},
{"function":"sigmoid","rank":8,"kappa":-0.035,"lo":-0.045,"hi":-0.025},
{"function":"sigmoid","rank":9,"kappa":-0.014,"lo":-0.019,"hi":-0.009},
{"function":"sigmoid","rank":10,"kappa":-0.011,"lo":-0.016,"hi":-0.006},
{"function":"sigmoid","rank":11,"kappa":0,"lo":0,"hi":0}
]
},
"vconcat": [
{
"hconcat": [
{"width": 285, "height": 208, "data": {"name": "a"}, "title": {"text": "(a) Bank"},
 "encoding": {"x": {"field": "rank", "type": "quantitative", "title": "rank", "scale": {"domain": [-0.8, 16.8], "nice": false, "zero": false}, "axis": {"values": [0, 2.5, 5, 7.5, 10, 12.5, 15], "labelExpr": "floor(datum.value)"}},
  "y": {"field": "kappa", "type": "quantitative", "title": "kappa", "scale": {"domain": [-0.05, 1.05], "nice": false, "zero": false}, "axis": {"values": [0, 0.2, 0.4, 0.6, 0.8, 1], "format": ".1f"}}},
 "layer": [
  {"mark": {"type": "area", "opacity": 0.2}, "encoding": {"y": {"field": "lo", "type": "quantitative", "title": "kappa", "scale": {"domain": [-0.05, 1.05], "nice": false, "zero": false}}, "y2": {"field": "hi"}, "fill": {"field": "function", "type": "nominal", "scale": {"domain": ["sigmoid", "relu", "elu"], "range": ["#55a868", "#dd8452", "#4c72b0"]}, "legend": null}}},
  {"mark": {"type": "line", "strokeWidth": 1.5}, "encoding": {"color": {"field": "function", "type": "nominal", "scale": {"domain": ["elu", "relu", "sigmoid"], "range": ["#4c72b0", "#dd8452", "#55a868"]}, "legend": {"title": "function"}}}},
  {"mark": {"type": "point", "filled": true, "size": 36, "stroke": "#ffffff", "strokeWidth": 0.8, "opacity": 1}, "encoding": {"fill": {"field": "function", "type": "nominal", "legend": null}}}
 ]},
{"width": 284, "height": 208, "data": {"name": "b"}, "title": {"text": "(b) Breast Cancer Wisconsin"},
 "encoding": {"x": {"field": "rank", "type": "quantitative", "title": "rank", "scale": {"domain": [-1.7, 35.8], "nice": false, "zero": false}, "axis": {"values": [0, 5, 10, 15, 20, 25, 30, 35], "labelExpr": "floor(datum.value)"}},
  "y": {"field": "kappa", "type": "quantitative", "title": "kappa", "scale": {"domain": [-0.08, 1.055], "nice": false, "zero": false}, "axis": {"values": [0, 0.2, 0.4, 0.6, 0.8, 1], "format": ".1f"}}},
 "layer": [
  {"mark": {"type": "area", "opacity": 0.2}, "encoding": {"y": {"field": "lo", "type": "quantitative", "title": "kappa", "scale": {"domain": [-0.08, 1.055], "nice": false, "zero": false}}, "y2": {"field": "hi"}, "fill": {"field": "function", "type": "nominal", "scale": {"domain": ["sigmoid", "relu", "elu"], "range": ["#55a868", "#dd8452", "#4c72b0"]}, "legend": null}}},
  {"mark": {"type": "line", "strokeWidth": 1.5}, "encoding": {"color": {"field": "function", "type": "nominal", "scale": {"domain": ["elu", "relu", "sigmoid"], "range": ["#4c72b0", "#dd8452", "#55a868"]}, "legend": {"title": "function"}}}},
  {"mark": {"type": "point", "filled": true, "size": 36, "stroke": "#ffffff", "strokeWidth": 0.8, "opacity": 1}, "encoding": {"fill": {"field": "function", "type": "nominal", "legend": null}}}
 ]},
{"width": 282, "height": 208, "data": {"name": "c"}, "title": {"text": "(c) Cardiotocography 3"},
 "encoding": {"x": {"field": "rank", "type": "quantitative", "title": "rank", "scale": {"domain": [-1.8, 36.1], "nice": false, "zero": false}, "axis": {"values": [0, 5, 10, 15, 20, 25, 30, 35], "labelExpr": "floor(datum.value)"}},
  "y": {"field": "kappa", "type": "quantitative", "title": "kappa", "scale": {"domain": [-0.13, 1.053], "nice": false, "zero": false}, "axis": {"values": [0, 0.2, 0.4, 0.6, 0.8, 1], "format": ".1f"}}},
 "layer": [
  {"mark": {"type": "area", "opacity": 0.2}, "encoding": {"y": {"field": "lo", "type": "quantitative", "title": "kappa", "scale": {"domain": [-0.13, 1.053], "nice": false, "zero": false}}, "y2": {"field": "hi"}, "fill": {"field": "function", "type": "nominal", "scale": {"domain": ["sigmoid", "relu", "elu"], "range": ["#55a868", "#dd8452", "#4c72b0"]}, "legend": null}}},
  {"mark": {"type": "line", "strokeWidth": 1.5}, "encoding": {"color": {"field": "function", "type": "nominal", "scale": {"domain": ["elu", "relu", "sigmoid"], "range": ["#4c72b0", "#dd8452", "#55a868"]}, "legend": {"title": "function"}}}},
  {"mark": {"type": "point", "filled": true, "size": 36, "stroke": "#ffffff", "strokeWidth": 0.8, "opacity": 1}, "encoding": {"fill": {"field": "function", "type": "nominal", "legend": null}}}
 ]},
{"width": 281, "height": 208, "data": {"name": "d"}, "title": {"text": "(d) Flags"},
 "encoding": {"x": {"field": "rank", "type": "quantitative", "title": "rank", "scale": {"domain": [-1.36, 28.95], "nice": false, "zero": false}, "axis": {"values": [0, 5, 10, 15, 20, 25], "labelExpr": "floor(datum.value)"}},
  "y": {"field": "kappa", "type": "quantitative", "title": "kappa", "scale": {"domain": [-0.05, 1.05], "nice": false, "zero": false}, "axis": {"values": [0, 0.2, 0.4, 0.6, 0.8, 1], "format": ".1f"}}},
 "layer": [
  {"mark": {"type": "area", "opacity": 0.2}, "encoding": {"y": {"field": "lo", "type": "quantitative", "title": "kappa", "scale": {"domain": [-0.05, 1.05], "nice": false, "zero": false}}, "y2": {"field": "hi"}, "fill": {"field": "function", "type": "nominal", "scale": {"domain": ["sigmoid", "relu", "elu"], "range": ["#55a868", "#dd8452", "#4c72b0"]}, "legend": null}}},
  {"mark": {"type": "line", "strokeWidth": 1.5}, "encoding": {"color": {"field": "function", "type": "nominal", "scale": {"domain": ["elu", "relu", "sigmoid"], "range": ["#4c72b0", "#dd8452", "#55a868"]}, "legend": {"title": "function"}}}},
  {"mark": {"type": "point", "filled": true, "size": 36, "stroke": "#ffffff", "strokeWidth": 0.8, "opacity": 1}, "encoding": {"fill": {"field": "function", "type": "nominal", "legend": null}}}
 ]}
],
"spacing": 18,
"resolve": {"scale": {"color": "independent", "fill": "independent"}}
},
{
"hconcat": [
{"width": 285, "height": 207, "data": {"name": "e"}, "title": {"text": "(e) Pima Diabetes"},
 "encoding": {"x": {"field": "rank", "type": "quantitative", "title": "rank", "scale": {"domain": [-0.41, 8.39], "nice": false, "zero": false}, "axis": {"values": [0, 2, 4, 6, 8], "labelExpr": "floor(datum.value)"}},
  "y": {"field": "kappa", "type": "quantitative", "title": "kappa", "scale": {"domain": [-0.065, 1.03], "nice": false, "zero": false}, "axis": {"values": [0, 0.2, 0.4, 0.6, 0.8, 1], "format": ".1f"}}},
 "layer": [
  {"mark": {"type": "area", "opacity": 0.2}, "encoding": {"y": {"field": "lo", "type": "quantitative", "title": "kappa", "scale": {"domain": [-0.065, 1.03], "nice": false, "zero": false}}, "y2": {"field": "hi"}, "fill": {"field": "function", "type": "nominal", "scale": {"domain": ["sigmoid", "relu", "elu"], "range": ["#55a868", "#dd8452", "#4c72b0"]}, "legend": null}}},
  {"mark": {"type": "line", "strokeWidth": 1.5}, "encoding": {"color": {"field": "function", "type": "nominal", "scale": {"domain": ["elu", "relu", "sigmoid"], "range": ["#4c72b0", "#dd8452", "#55a868"]}, "legend": {"title": "function"}}}},
  {"mark": {"type": "point", "filled": true, "size": 36, "stroke": "#ffffff", "strokeWidth": 0.8, "opacity": 1}, "encoding": {"fill": {"field": "function", "type": "nominal", "legend": null}}}
 ]},
{"width": 284, "height": 207, "data": {"name": "f"}, "title": {"text": "(f) Segment"},
 "encoding": {"x": {"field": "rank", "type": "quantitative", "title": "rank", "scale": {"domain": [-0.9, 18.8], "nice": false, "zero": false}, "axis": {"values": [0, 2.5, 5, 7.5, 10, 12.5, 15, 17.5], "labelExpr": "floor(datum.value)"}},
  "y": {"field": "kappa", "type": "quantitative", "title": "kappa", "scale": {"domain": [-0.055, 1.042], "nice": false, "zero": false}, "axis": {"values": [0, 0.2, 0.4, 0.6, 0.8, 1], "format": ".1f"}}},
 "layer": [
  {"mark": {"type": "area", "opacity": 0.2}, "encoding": {"y": {"field": "lo", "type": "quantitative", "title": "kappa", "scale": {"domain": [-0.055, 1.042], "nice": false, "zero": false}}, "y2": {"field": "hi"}, "fill": {"field": "function", "type": "nominal", "scale": {"domain": ["sigmoid", "relu", "elu"], "range": ["#55a868", "#dd8452", "#4c72b0"]}, "legend": null}}},
  {"mark": {"type": "line", "strokeWidth": 1.5}, "encoding": {"color": {"field": "function", "type": "nominal", "scale": {"domain": ["elu", "relu", "sigmoid"], "range": ["#4c72b0", "#dd8452", "#55a868"]}, "legend": {"title": "function"}}}},
  {"mark": {"type": "point", "filled": true, "size": 36, "stroke": "#ffffff", "strokeWidth": 0.8, "opacity": 1}, "encoding": {"fill": {"field": "function", "type": "nominal", "legend": null}}}
 ]},
{"width": 282, "height": 207, "data": {"name": "g"}, "title": {"text": "(g) Vehicle"},
 "encoding": {"x": {"field": "rank", "type": "quantitative", "title": "rank", "scale": {"domain": [-0.93, 18.7], "nice": false, "zero": false}, "axis": {"values": [0, 2.5, 5, 7.5, 10, 12.5, 15, 17.5], "labelExpr": "floor(datum.value)"}},
  "y": {"field": "kappa", "type": "quantitative", "title": "kappa", "scale": {"domain": [-0.05, 1.05], "nice": false, "zero": false}, "axis": {"values": [0, 0.2, 0.4, 0.6, 0.8, 1], "format": ".1f"}}},
 "layer": [
  {"mark": {"type": "area", "opacity": 0.2}, "encoding": {"y": {"field": "lo", "type": "quantitative", "title": "kappa", "scale": {"domain": [-0.05, 1.05], "nice": false, "zero": false}}, "y2": {"field": "hi"}, "fill": {"field": "function", "type": "nominal", "scale": {"domain": ["sigmoid", "relu", "elu"], "range": ["#55a868", "#dd8452", "#4c72b0"]}, "legend": null}}},
  {"mark": {"type": "line", "strokeWidth": 1.5}, "encoding": {"color": {"field": "function", "type": "nominal", "scale": {"domain": ["elu", "relu", "sigmoid"], "range": ["#4c72b0", "#dd8452", "#55a868"]}, "legend": {"title": "function"}}}},
  {"mark": {"type": "point", "filled": true, "size": 36, "stroke": "#ffffff", "strokeWidth": 0.8, "opacity": 1}, "encoding": {"fill": {"field": "function", "type": "nominal", "legend": null}}}
 ]},
{"width": 281, "height": 207, "data": {"name": "h"}, "title": {"text": "(h) Wine Quality Red"},
 "encoding": {"x": {"field": "rank", "type": "quantitative", "title": "rank", "scale": {"domain": [-0.55, 11.45], "nice": false, "zero": false}, "axis": {"values": [0, 2, 4, 6, 8, 10], "labelExpr": "floor(datum.value)"}},
  "y": {"field": "kappa", "type": "quantitative", "title": "kappa", "scale": {"domain": [-0.1, 0.99], "nice": false, "zero": false}, "axis": {"values": [0, 0.2, 0.4, 0.6, 0.8], "format": ".1f"}}},
 "layer": [
  {"mark": {"type": "area", "opacity": 0.2}, "encoding": {"y": {"field": "lo", "type": "quantitative", "title": "kappa", "scale": {"domain": [-0.1, 0.99], "nice": false, "zero": false}}, "y2": {"field": "hi"}, "fill": {"field": "function", "type": "nominal", "scale": {"domain": ["sigmoid", "relu", "elu"], "range": ["#55a868", "#dd8452", "#4c72b0"]}, "legend": null}}},
  {"mark": {"type": "line", "strokeWidth": 1.5}, "encoding": {"color": {"field": "function", "type": "nominal", "scale": {"domain": ["elu", "relu", "sigmoid"], "range": ["#4c72b0", "#dd8452", "#55a868"]}, "legend": {"title": "function"}}}},
  {"mark": {"type": "point", "filled": true, "size": 36, "stroke": "#ffffff", "strokeWidth": 0.8, "opacity": 1}, "encoding": {"fill": {"field": "function", "type": "nominal", "legend": null}}}
 ]}
],
"spacing": 18,
"resolve": {"scale": {"color": "independent", "fill": "independent"}}
}
],
"spacing": 4,
"resolve": {"scale": {"color": "independent", "fill": "independent"}}
}
